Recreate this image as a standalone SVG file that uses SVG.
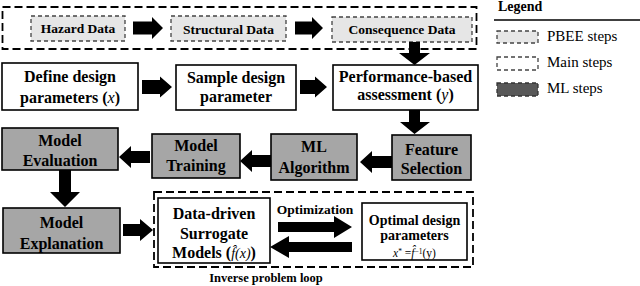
<svg xmlns="http://www.w3.org/2000/svg" width="640" height="286" viewBox="0 0 640 286">
<style>
text{font-family:"Liberation Serif","Times New Roman",serif;fill:#000}
.b{font-weight:bold;font-size:16px;text-anchor:middle}
.s{font-weight:bold;font-size:13.5px;text-anchor:middle}
.lg{font-size:15px}
.main{fill:#fff;stroke:#000;stroke-width:1.6}
.ml{fill:#a6a6a6;stroke:#000;stroke-width:1.6}
.pbee{fill:#e6e6e6;stroke:#444;stroke-width:1.3;stroke-dasharray:4,3}
.grp{fill:none;stroke:#000;stroke-width:1.8;stroke-dasharray:8,4}
.arr{fill:#000;stroke:none}
.it{font-style:italic}
</style>
<g id="pbee-group"><rect class="grp" x="2.5" y="7" width="474" height="42"/></g>
<g id="hazard"><rect class="pbee" x="31" y="16" width="94" height="25"/><text class="s" x="78" y="33">Hazard Data</text></g>
<g id="structural"><rect class="pbee" x="171" y="16" width="115" height="25"/><text class="s" x="228.5" y="33.5">Structural Data</text></g>
<g id="consequence"><rect class="pbee" x="332" y="17" width="140" height="25"/><text class="s" x="402" y="34">Consequence Data</text></g>

<g id="define"><rect class="main" x="2" y="63" width="136" height="47"/><text class="b" x="70" y="82">Define design</text><text class="b" x="70" y="103">parameters (<tspan class="it" font-weight="normal">x</tspan>)</text></g>
<g id="sample"><rect class="main" x="176" y="65" width="120" height="45"/><text class="b" x="236" y="83">Sample design</text><text class="b" x="236" y="102">parameter</text></g>
<g id="performance"><rect class="main" x="333" y="65" width="145" height="45"/><text class="b" x="405.5" y="82">Performance-based</text><text class="b" x="405.5" y="100">assessment (<tspan class="it" font-weight="normal">y</tspan>)</text></g>

<g id="feature"><rect class="ml" x="392" y="135" width="79" height="45"/><text class="b" x="431.5" y="155">Feature</text><text class="b" x="431.5" y="174">Selection</text></g>
<g id="mlalgo"><rect class="ml" x="271" y="134" width="86" height="46"/><text class="b" x="314" y="152">ML</text><text class="b" x="314" y="173">Algorithm</text></g>
<g id="training"><rect class="ml" x="152" y="134" width="88" height="44"/><text class="b" x="196" y="151">Model</text><text class="b" x="196" y="171">Training</text></g>
<g id="evaluation"><rect class="ml" x="2" y="128" width="116" height="42"/><text class="b" x="60" y="146">Model</text><text class="b" x="60" y="166">Evaluation</text></g>
<g id="explanation"><rect class="ml" x="3" y="208" width="117" height="45"/><text class="b" x="61.5" y="228">Model</text><text class="b" x="61.5" y="249">Explanation</text></g>

<g id="inverse-loop"><rect class="grp" x="154" y="192" width="319" height="75"/><text x="266" y="282" style="font-weight:bold;font-size:12.5px;text-anchor:middle">Inverse problem loop</text></g>
<g id="surrogate"><rect class="main" x="158" y="198" width="112" height="65"/><text class="b" x="214" y="219">Data-driven</text><text class="b" x="214" y="239">Surrogate</text><text class="b" x="214" y="258">Models (<tspan class="it" font-weight="normal" font-size="14">f̂(x)</tspan>)</text></g>
<g id="optimal"><rect class="main" x="362" y="203" width="105" height="57"/><text x="414.5" y="225" style="font-weight:bold;font-size:14px;text-anchor:middle">Optimal design</text><text x="414.5" y="240" style="font-weight:bold;font-size:14px;text-anchor:middle">parameters</text><text x="414.5" y="256.5" style="font-size:11.5px;text-anchor:middle"><tspan class="it">x</tspan><tspan dy="-3" font-size="7.5">*</tspan><tspan dy="3"> =</tspan><tspan class="it">f̂</tspan><tspan dy="-3" font-size="7.5">−1</tspan><tspan dy="3">(y)</tspan></text></g>

<g id="connectors">
<path class="arr" d="M133 21.5H152V17L163 28L152 39V34.5H133Z"/>
<path class="arr" d="M295 21.5H312V17L323 28L312 39V34.5H295Z"/>
<path class="arr" d="M409 42V53H399L414.5 65L430 53H420V42Z"/>
<path class="arr" d="M142 80H160V76.5L172 87L160 97.5V94H142Z"/>
<path class="arr" d="M300 80H315V76.5L327 87L315 97.5V94H300Z"/>
<path class="arr" d="M409 110V122H400L414.5 134L430 122H420V110Z"/>
<path class="arr" d="M392 156H372V151L360 162L372 173V168H392Z"/>
<path class="arr" d="M271 155H252V150L240 161L252 172V167H271Z"/>
<path class="arr" d="M150 151H131V146L119 157L131 168V163H150Z"/>
<path class="arr" d="M59 170V192H50L65 207L80 192H71V170Z"/>
<path class="arr" d="M123 224H140V219L153 230L140 241V236H123Z"/>
<path class="arr" d="M278 222H334V216L352 227L334 238V232H278Z"/>
<path class="arr" d="M352 242H289V236L270 247L289 258V252H352Z"/>
<text x="315" y="214" style="font-weight:bold;font-size:13.5px;text-anchor:middle">Optimization</text>
</g>

<g id="legend">
<text x="498" y="11" style="font-weight:bold;font-size:14px">Legend</text>
<line x1="494" y1="20" x2="640" y2="20" stroke="#000" stroke-width="1.5"/>
<rect class="pbee" x="497" y="31" width="41" height="12"/><text class="lg" x="547" y="41">PBEE steps</text>
<rect x="497" y="57" width="41" height="13" fill="#fff" stroke="#444" stroke-width="1.3" stroke-dasharray="4,3"/><text class="lg" x="547" y="67">Main steps</text>
<rect x="497" y="83" width="41" height="13" fill="#595959" stroke="#333" stroke-width="1.3" stroke-dasharray="4,3"/><text class="lg" x="547" y="93">ML steps</text>
</g>
</svg>
